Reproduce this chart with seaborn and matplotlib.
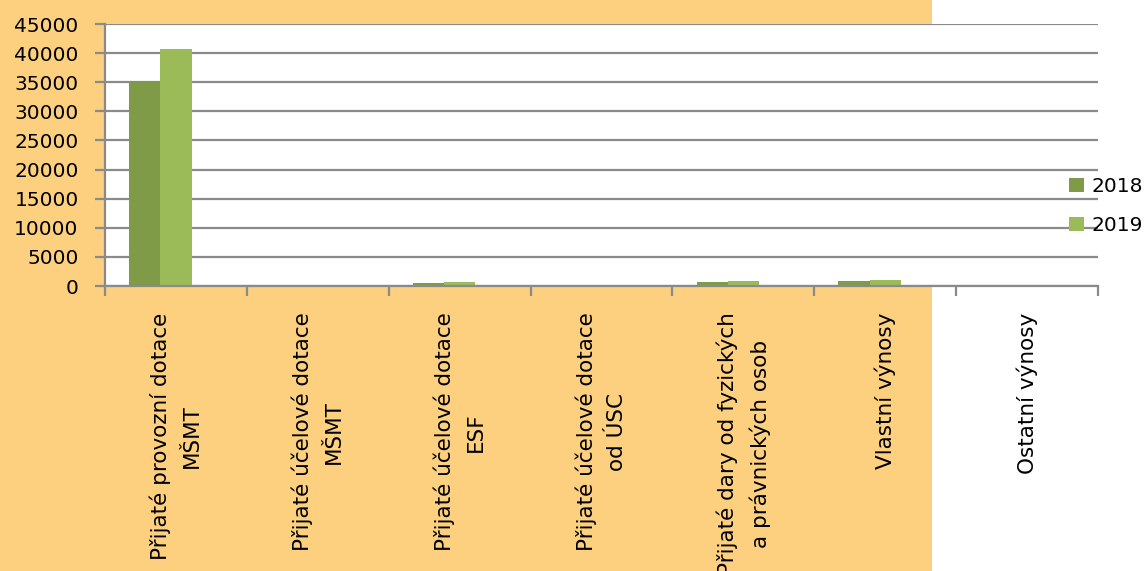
import matplotlib
matplotlib.use("Agg")
import matplotlib.pyplot as plt
import seaborn as sns
import pandas as pd
import numpy as np
from matplotlib.patches import Patch, Rectangle

categories = [
    "Přijaté provozní dotace\nMŠMT",
    "Přijaté účelové dotace\nMŠMT",
    "Přijaté účelové dotace\nESF",
    "Přijaté účelové dotace\nod ÚSC",
    "Přijaté dary od fyzických\na právnických osob",
    "Vlastní výnosy",
    "Ostatní výnosy",
]
values_2018 = [35200, 0, 450, 0, 700, 930, 0]
values_2019 = [40700, 0, 620, 0, 850, 1040, 0]
values_empty = [np.nan] * 7
series = ["2018", "2019", " "]
yticks = [0, 5000, 10000, 15000, 20000, 25000, 30000, 35000, 40000, 45000]

rows = []
for name, vals in zip(series, [values_2018, values_2019, values_empty]):
    for c, v in zip(categories, vals):
        rows.append({"cat": c, "series": name, "value": v})
df = pd.DataFrame(rows)

sns.set_theme(style="white")
plt.rcParams["font.family"] = ["DejaVu Sans"]
plt.rcParams["text.color"] = "black"
plt.rcParams["xtick.color"] = "black"
plt.rcParams["ytick.color"] = "black"

fig = plt.figure(figsize=(11.48, 5.71), dpi=100)
fig.patch.set_facecolor("white")
bg = Rectangle((0, 0), 932 / 1148, 1, transform=fig.transFigure,
               facecolor="#FCD07E", edgecolor="none", zorder=-10)
fig.patches.append(bg)

ax = fig.add_axes([105 / 1148, 1 - 286 / 571, (1098 - 105) / 1148, (286 - 24) / 571])
ax.set_zorder(1)
ax.set_facecolor("white")
palette = {"2018": "#7F9B48", "2019": "#9BBB59", " ": "#FFFFFF"}
sns.barplot(data=df, x="cat", y="value", hue="series", hue_order=series,
            order=categories, palette=palette, width=0.66, linewidth=0,
            saturation=1, legend=False, ax=ax)

ax.set_xlim(-0.5, 6.5)
ax.set_ylim(0, 45000)
ax.set_yticks(yticks)
ax.set_yticklabels([str(t) for t in yticks], fontsize=14.5, color="black")
ax.yaxis.grid(True, color="#8A8A8A", linewidth=1.6)
ax.set_axisbelow(True)
ax.set_xlabel("")
ax.set_ylabel("")
for s in ["top", "right"]:
    ax.spines[s].set_visible(False)
for s in ["left", "bottom"]:
    ax.spines[s].set_color("#8A8A8A")
    ax.spines[s].set_linewidth(1.6)

ax.tick_params(axis="y", direction="out", length=7, width=1.6, color="#8A8A8A",
               pad=12, left=True)
ax.set_xticks(np.arange(len(categories)))
ax.set_xticklabels(categories, rotation=90, fontsize=15.5, va="top", ha="center",
                   multialignment="center", linespacing=1.65, color="black")
ax.tick_params(axis="x", which="major", length=0, pad=19)
ax.set_xticks(np.arange(-0.5, len(categories) + 0.5, 1.0), minor=True)
ax.tick_params(axis="x", which="minor", direction="out", length=7, width=1.6,
               color="#8A8A8A", bottom=True)

handles = [Patch(facecolor=palette["2018"], edgecolor="none"),
           Patch(facecolor=palette["2019"], edgecolor="none")]
leg = fig.legend(handles, ["2018", "2019"], loc="center left",
                 bbox_to_anchor=(1059 / 1148, 1 - 206 / 571), frameon=False,
                 fontsize=14.5, handlelength=0.75, handleheight=0.75,
                 handletextpad=0.35, labelspacing=1.0, borderpad=0)
leg.set_zorder(5)

fig.savefig("out.png", dpi=100)
